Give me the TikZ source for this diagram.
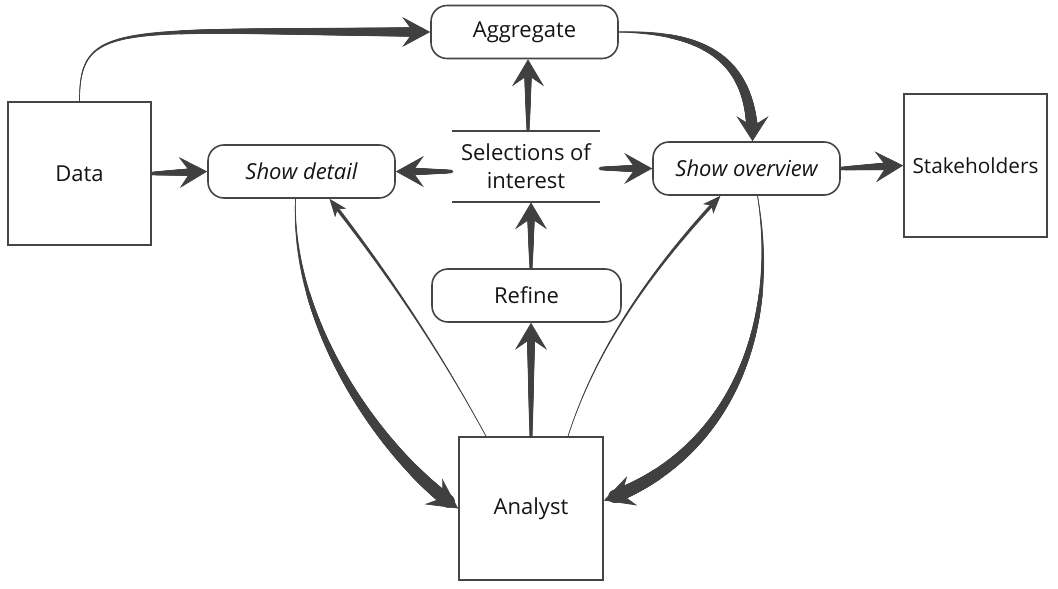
\documentclass[tikz,border=0pt]{standalone}
\usepackage{fontspec}
\setmainfont{Open Sans}
\usetikzlibrary{arrows.meta,decorations.markings,calc}
\definecolor{agray}{HTML}{404040}
\definecolor{bgray}{HTML}{454545}
\definecolor{tgray}{HTML}{141414}
\newcommand\taperRad[2]{%
  \pgfmathsetmacro\tprad{#1+(#2-#1)*(\pgfkeysvalueof{/pgf/decoration/mark info/distance from start})/(\pgfdecoratedpathlength)}}
\tikzset{
  tap/.style n args={6}{% r0, r1 (pt), stop before end, head length, head width, inset
    draw=agray, line width=0.35pt,
    -{Stealth[length=#4pt,width=#5pt,inset=#6pt]},
    postaction={decorate,decoration={markings,
      mark=between positions 0 and -#3pt step 0.3pt with
        {\taperRad{#1}{#2}\fill[agray] (0,0) circle (\tprad pt);}}}},
  hstraight/.style={tap={0.9}{2.3}{8}{14}{15.5}{5.5}},
  vstraight/.style={tap={0.8}{2.2}{8}{13.5}{16}{5.5}},
  bigcurve/.style={tap={0.15}{3.4}{8}{15}{15.5}{5.5}},
  thincurve/.style={tap={0.08}{0.95}{4}{9}{7}{2.4}},
  sqbox/.style={draw=bgray, line width=0.8pt, minimum width=71.5pt, minimum height=71.5pt,
    inner sep=0pt, text=tgray},
  rbox/.style={draw=bgray, line width=0.8pt, rounded corners=8pt, minimum width=93.5pt,
    minimum height=26.5pt, inner sep=0pt, text=tgray},
}
\begin{document}
\begin{tikzpicture}[x=0.5pt,y=-0.5pt,font=\fontsize{11}{14}\selectfont]
\useasboundingbox (0,0) rectangle (1058,588);
% nodes
\node[sqbox] (data) at (79.5,173.5) {Data};
\node[sqbox, font=\fontsize{10.4}{14}\selectfont] (stake) at (975.5,165.5) {Stakeholders};
\node[sqbox, minimum width=72pt] (analyst) at (531,508.5) {Analyst};
\node[rbox] (agg) at (524.5,32) {Aggregate};
\node[rbox] (showd) at (301.5,171.5) {\itshape Show detail};
\node[rbox] (showo) at (746.5,168.5) {\itshape Show overview};
\node[rbox, minimum width=94.5pt] (refine) at (526.5,295.5) {Refine};
\node[align=center, minimum width=74pt, minimum height=35.5pt, inner sep=0pt, text=tgray]
  (sel) at (526,166.5) {Selections of\\interest};
\draw[bgray, line width=1pt] (sel.north west) -- (sel.north east)
  (sel.south west) -- (sel.south east);
% straight connectors
\draw[hstraight] (data.east) -- (showd.west);
\draw[hstraight] (sel.west |- showd.east) -- (showd.east);
\draw[hstraight] (sel.east |- showo.west) -- (showo.west);
\draw[hstraight] (showo.east) -- (stake.west);
\draw[vstraight] ([xshift=1pt]sel.north) -- ([xshift=1pt]sel.north |- agg.south);
\draw[vstraight] (analyst.north |- refine.north) -- (analyst.north |- sel.south);
\draw[vstraight] (analyst.north) -- (analyst.north |- refine.south);
% curved connectors
\draw[tap={0.15}{2.5}{8}{14}{15}{5.5}] (data.north) .. controls +(0,-82) and +(-311,0) .. (agg.west);
\draw[tap={0.25}{3.1}{7}{12.5}{16}{5}] (agg.east) .. controls +(86,0) and +(0,-82) .. ([xshift=3pt]showo.north);
\draw[bigcurve] ([xshift=-3pt]showd.south) .. controls +(-5,132) and +(-70,-48) .. (analyst.west);
\draw[bigcurve] ([xshift=5.5pt]showo.south) .. controls +(24,145) and +(117,-40) .. ([yshift=4pt]analyst.east);
\draw[thincurve] ([xshift=-22.5pt]analyst.north) .. controls +(-45,-83) and +(59,75) .. ([xshift=14pt]showd.south);
\draw[thincurve] ([xshift=18.5pt]analyst.north) .. controls +(26,-81) and +(-76,81) .. ([xshift=-13pt]showo.south);
\end{tikzpicture}
\end{document}
